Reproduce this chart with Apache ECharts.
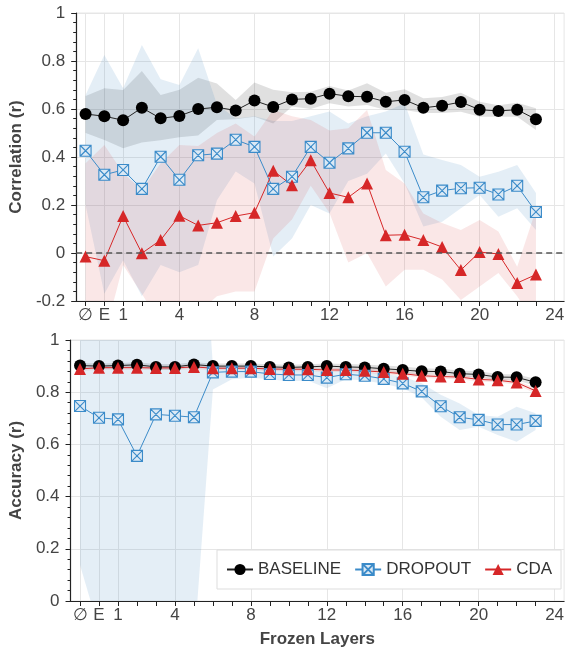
<!DOCTYPE html>
<html>
<head>
<meta charset="utf-8">
<script src="https://cdn.jsdelivr.net/npm/echarts@6/dist/echarts.min.js"></script>
<style>
html,body{margin:0;padding:0;background:#fff;}
#chart{width:567px;height:652px;}
</style>
</head>
<body>
<div id="chart"></div>
<script>
// x positions: ∅ = -1, E = 0, then layers 1..23
const layers = [-1,0,1,2,3,4,5,6,7,8,9,10,11,12,13,14,15,16,17,18,19,20,21,22,23];
const tickValues = [-1,0,1,4,8,12,16,20,24];
const tickLabels = ['∅','E','1','4','8','12','16','20','24'];
const seriesNames = ['BASELINE','DROPOUT','CDA'];

// ---- Correlation (top) ----
const corrBaseline = [0.579,0.570,0.553,0.605,0.561,0.571,0.600,0.607,0.594,0.635,0.608,0.640,0.643,0.664,0.653,0.651,0.630,0.638,0.605,0.614,0.629,0.597,0.592,0.597,0.557];
const corrBaselineUpper = [0.654,0.686,0.679,0.758,0.658,0.680,0.730,0.706,0.638,0.710,0.680,0.670,0.672,0.696,0.677,0.707,0.668,0.682,0.645,0.650,0.668,0.630,0.616,0.626,0.603];
const corrBaselineLower = [0.500,0.471,0.436,0.460,0.470,0.482,0.490,0.554,0.557,0.568,0.540,0.610,0.600,0.624,0.610,0.617,0.596,0.596,0.583,0.583,0.589,0.568,0.568,0.568,0.512];

const corrDropout = [0.426,0.326,0.346,0.267,0.401,0.305,0.407,0.414,0.472,0.442,0.267,0.318,0.442,0.376,0.436,0.501,0.501,0.422,0.232,0.260,0.270,0.272,0.244,0.280,0.171];
const corrDropoutUpper = [0.658,0.825,0.686,0.867,0.724,0.700,0.853,0.620,0.560,0.570,0.550,0.550,0.570,0.590,0.540,0.570,0.590,0.624,0.410,0.388,0.367,0.318,0.339,0.367,0.250];
const corrDropoutLower = [0.200,-0.170,-0.030,-0.180,-0.050,-0.080,-0.050,0.220,0.340,0.290,-0.015,0.060,0.200,0.165,0.300,0.330,0.415,0.290,0.110,0.130,0.186,0.242,0.151,0.186,0.096];

const corrCda = [-0.015,-0.032,0.154,-0.001,0.054,0.155,0.115,0.126,0.154,0.168,0.343,0.282,0.386,0.250,0.232,0.290,0.074,0.076,0.054,0.025,-0.071,0.004,-0.004,-0.125,-0.090];
const corrCdaUpper = [0.374,0.450,0.333,0.262,0.374,0.450,0.446,0.500,0.540,0.485,0.596,0.570,0.554,0.510,0.520,0.596,0.346,0.290,0.165,0.125,0.096,0.138,0.090,-0.057,0.180];
const corrCdaLower = [-0.350,-0.350,-0.050,-0.170,-0.300,-0.250,-0.250,-0.180,-0.160,-0.160,0.060,0.140,0.280,0.167,-0.040,0.000,-0.140,-0.070,-0.070,-0.110,-0.196,-0.140,-0.083,-0.180,-0.300];

// ---- Accuracy (bottom) ----
const accBaseline = [0.902,0.900,0.902,0.905,0.897,0.897,0.906,0.900,0.900,0.900,0.897,0.895,0.897,0.900,0.897,0.895,0.890,0.885,0.880,0.879,0.871,0.868,0.858,0.857,0.838];
const accBaselineUpper = [0.912,0.910,0.912,0.915,0.908,0.908,0.915,0.910,0.910,0.910,0.907,0.905,0.907,0.910,0.908,0.906,0.902,0.898,0.892,0.890,0.883,0.880,0.870,0.868,0.852];
const accBaselineLower = [0.892,0.890,0.892,0.895,0.886,0.886,0.897,0.890,0.890,0.890,0.887,0.885,0.887,0.890,0.886,0.884,0.878,0.872,0.868,0.868,0.859,0.856,0.846,0.846,0.824];

const accDropout = [0.747,0.702,0.696,0.556,0.715,0.710,0.704,0.876,0.879,0.879,0.870,0.866,0.866,0.856,0.869,0.863,0.851,0.834,0.803,0.746,0.704,0.694,0.676,0.676,0.690];
const accDropoutUpper = [1.300,1.300,1.300,1.300,1.300,1.300,2.000,0.900,0.895,0.895,0.890,0.885,0.885,0.878,0.885,0.880,0.870,0.860,0.834,0.790,0.757,0.713,0.706,0.744,0.719];
const accDropoutLower = [0.138,-0.110,-0.300,-0.300,-0.300,-0.300,-0.180,0.810,0.850,0.855,0.850,0.842,0.845,0.815,0.850,0.845,0.832,0.815,0.780,0.706,0.655,0.668,0.636,0.610,0.655];

const accCda = [0.889,0.894,0.894,0.894,0.893,0.893,0.897,0.892,0.892,0.892,0.889,0.888,0.888,0.885,0.885,0.882,0.877,0.871,0.863,0.860,0.858,0.849,0.846,0.837,0.805];
const accCdaUpper = [0.897,0.902,0.902,0.902,0.901,0.901,0.905,0.900,0.900,0.900,0.897,0.896,0.896,0.893,0.893,0.890,0.885,0.879,0.871,0.868,0.866,0.857,0.854,0.845,0.815];
const accCdaLower = [0.881,0.886,0.886,0.886,0.885,0.885,0.889,0.884,0.884,0.884,0.881,0.880,0.880,0.877,0.877,0.874,0.869,0.863,0.855,0.852,0.850,0.841,0.838,0.829,0.795];

// ---- styling ----
const C_BLACK = '#000000', C_BLUE = '#3b8bc9', C_RED = '#d62728';
const BAND_BLACK = 'rgba(0,0,0,0.12)', BAND_BLUE = 'rgba(31,119,180,0.12)', BAND_RED = 'rgba(214,39,40,0.11)';
const SQ_X = 'path://M0,0L10,0L10,10L0,10Z M0,0L10,10 M10,0L0,10';
const FONT = 'Liberation Sans, Arial, sans-serif';

function pairs(vals){ return layers.map((x,i)=>[x, vals[i]]); }

function band(name, g, lower, upper, color){
  return {
    name: name, type: 'custom', xAxisIndex: g, yAxisIndex: g, clip: true, silent: true, z: 2,
    data: [[layers[0], lower[0]]],
    renderItem: function(params, api){
      const pts = [];
      for (let i = 0; i < layers.length; i++) pts.push(api.coord([layers[i], upper[i]]));
      for (let i = layers.length - 1; i >= 0; i--) pts.push(api.coord([layers[i], lower[i]]));
      return {type: 'polygon', shape: {points: pts}, style: {fill: color}};
    }
  };
}

function lineSeries(name, g, vals, kind, extra){
  const s = {name: name, type: 'line', xAxisIndex: g, yAxisIndex: g, data: pairs(vals), z: 3,
    showAllSymbol: true, animation: false};
  if (kind === 0){
    s.symbol = 'circle'; s.symbolSize = 12;
    s.itemStyle = {color: C_BLACK};
    s.lineStyle = {color: '#222', width: 1};
  } else if (kind === 1){
    s.symbol = SQ_X; s.symbolSize = 11; s.symbolKeepAspect = true;
    s.itemStyle = {color: '#dbe9f5', borderColor: C_BLUE, borderWidth: 1.1};
    s.lineStyle = {color: C_BLUE, width: 1};
  } else {
    s.symbol = 'triangle'; s.symbolSize = 12;
    s.itemStyle = {color: C_RED};
    s.lineStyle = {color: C_RED, width: 1};
  }
  return Object.assign(s, extra || {});
}

function vGrid(){
  return {silent: true, symbol: ['none','none'], z: 1, animation: false,
    label: {show: false},
    lineStyle: {color: '#e6e6e6', width: 1, type: 'solid'},
    data: tickValues.map(v => ({xAxis: v}))};
}

function xAxisCfg(g, withName){
  const a = {
    type: 'value', gridIndex: g, min: -1.5, max: 24.5,
    axisLine: {show: true, onZero: false, lineStyle: {color: '#222', width: 1.2}},
    axisTick: {show: true, customValues: layers, length: 5, lineStyle: {color: '#222'}},
    axisLabel: {customValues: tickValues, fontSize: 17, color: '#444', margin: 6, fontFamily: FONT,
      formatter: v => { const k = tickValues.indexOf(Math.round(v)); return k >= 0 ? tickLabels[k] : ''; }},
    splitLine: {show: false}
  };
  if (withName){
    a.name = 'Frozen Layers'; a.nameLocation = 'middle'; a.nameGap = 30;
    a.nameTextStyle = {fontWeight: 'bold', fontSize: 17, color: '#444', fontFamily: FONT};
  }
  return a;
}

function yAxisCfg(g, min, name){
  return {
    type: 'value', gridIndex: g, min: min, max: 1, interval: 0.2,
    name: name, nameLocation: 'middle', nameGap: 42,
    nameTextStyle: {fontWeight: 'bold', fontSize: 17, color: '#444', fontFamily: FONT},
    axisLine: {show: true, onZero: false, lineStyle: {color: '#222', width: 1.2}},
    axisTick: {show: true, length: 5, lineStyle: {color: '#222'}},
    minorTick: {show: true, splitNumber: 5, length: 3, lineStyle: {color: '#222'}},
    splitLine: {show: true, lineStyle: {color: '#e6e6e6', width: 1}},
    axisLabel: {fontSize: 17, color: '#444', margin: 11, fontFamily: FONT}
  };
}

const chart = echarts.init(document.getElementById('chart'), null, {renderer: 'canvas'});
chart.setOption({
  animation: false,
  textStyle: {fontFamily: FONT},
  grid: [
    {left: 68, right: 1, top: 13, height: 288, show: true, borderColor: '#e6e6e6', borderWidth: 1},
    {left: 68, right: 1, top: 340, height: 261, show: true, borderColor: '#e6e6e6', borderWidth: 1}
  ],
  xAxis: [xAxisCfg(0, false), xAxisCfg(1, true)],
  yAxis: [yAxisCfg(0, -0.2, 'Correlation (r)'), yAxisCfg(1, 0, 'Accuracy (r)')],
  legend: {
    data: seriesNames, left: 217, top: 550, padding: [11, 9, 11, 9], itemGap: 13,
    itemWidth: 26, itemHeight: 14, borderColor: '#dddddd', borderWidth: 1, backgroundColor: '#ffffff',
    textStyle: {fontSize: 17, color: '#333', fontFamily: FONT}, selectedMode: false
  },
  series: [
    band('bandB0', 0, corrBaselineLower, corrBaselineUpper, BAND_BLACK),
    band('bandD0', 0, corrDropoutLower, corrDropoutUpper, BAND_BLUE),
    band('bandC0', 0, corrCdaLower, corrCdaUpper, BAND_RED),
    lineSeries(seriesNames[0], 0, corrBaseline, 0, {markLine: vGrid()}),
    lineSeries(seriesNames[1], 0, corrDropout, 1, {markLine: {silent: true, symbol: ['none','none'], z: 4, animation: false,
      label: {show: false}, lineStyle: {color: '#555', width: 1.5, type: [6, 4]}, data: [{yAxis: 0}]}}),
    lineSeries(seriesNames[2], 0, corrCda, 2),
    band('bandB1', 1, accBaselineLower, accBaselineUpper, BAND_BLACK),
    band('bandD1', 1, accDropoutLower, accDropoutUpper, BAND_BLUE),
    band('bandC1', 1, accCdaLower, accCdaUpper, BAND_RED),
    lineSeries(seriesNames[0], 1, accBaseline, 0, {markLine: vGrid()}),
    lineSeries(seriesNames[1], 1, accDropout, 1),
    lineSeries(seriesNames[2], 1, accCda, 2)
  ]
});
</script>
</body>
</html>
